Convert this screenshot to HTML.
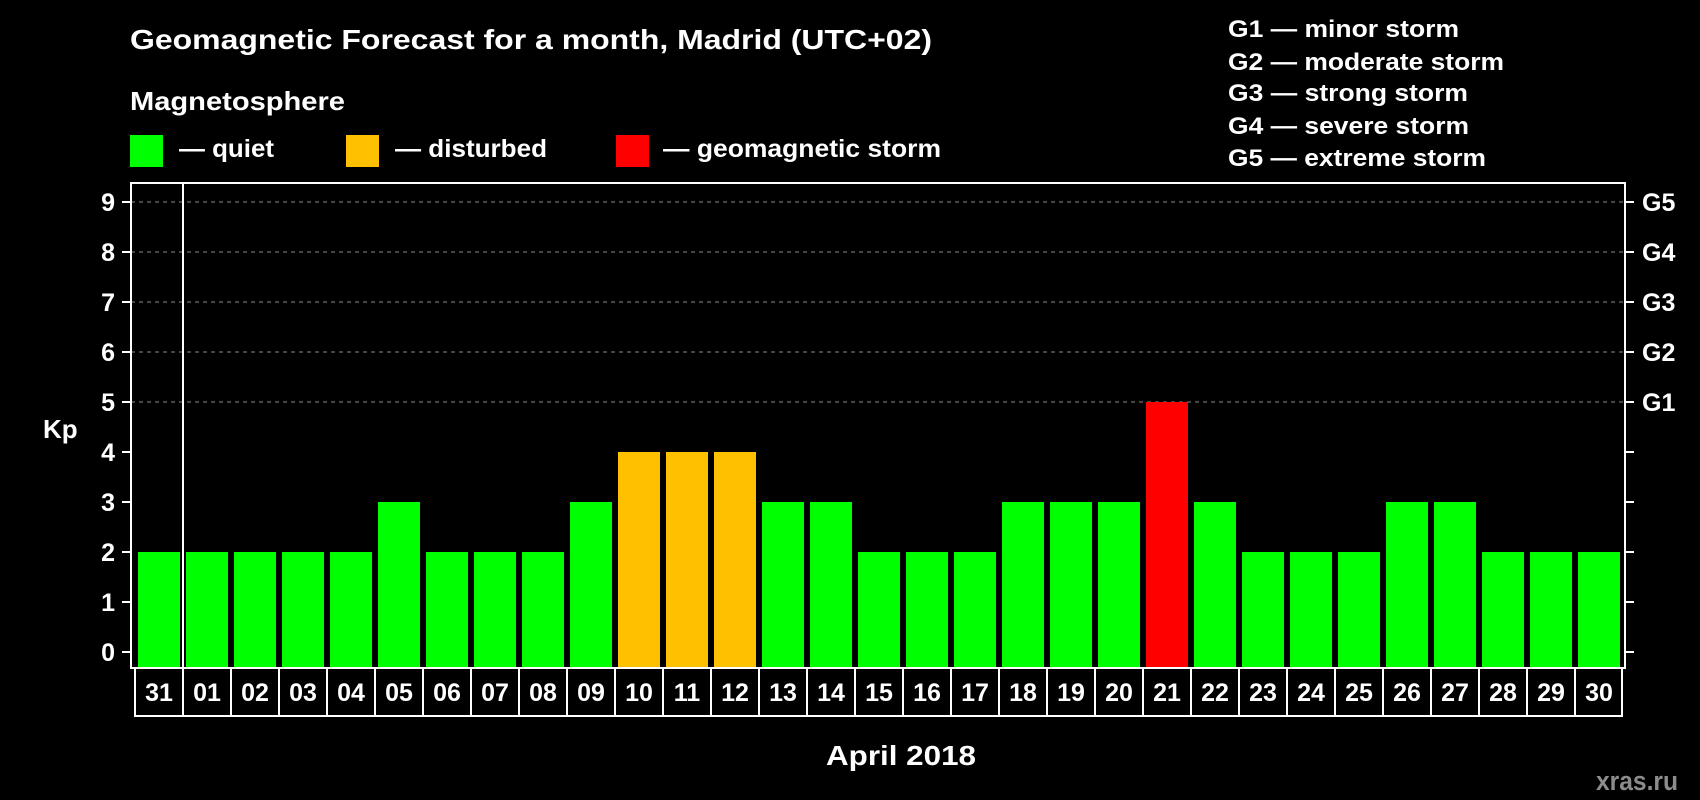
<!DOCTYPE html>
<html><head><meta charset="utf-8"><style>
html,body{margin:0;padding:0;background:#000;}
svg{display:block;font-family:"Liberation Sans",Arial,sans-serif;font-weight:bold;}
</style></head><body>
<svg id="chart" width="1700" height="800" viewBox="0 0 1700 800" xmlns="http://www.w3.org/2000/svg">
<rect width="1700" height="800" fill="#000"/>
<text x="130" y="49" font-size="28" fill="#fff" textLength="802" lengthAdjust="spacingAndGlyphs">Geomagnetic Forecast for a month, Madrid (UTC+02)</text>
<text x="130" y="110" font-size="26" fill="#fff" textLength="215" lengthAdjust="spacingAndGlyphs">Magnetosphere</text>
<g>
<rect x="130" y="135" width="33" height="32" fill="#00ff00"/>
<text x="179" y="157" font-size="25" fill="#fff" textLength="95" lengthAdjust="spacingAndGlyphs">— quiet</text></g>
<g>
<rect x="346" y="135" width="33" height="32" fill="#ffc000"/>
<text x="395" y="157" font-size="25" fill="#fff" textLength="152" lengthAdjust="spacingAndGlyphs">— disturbed</text></g>
<g>
<rect x="616" y="135" width="33" height="32" fill="#ff0000"/>
<text x="663" y="157" font-size="25" fill="#fff" textLength="278" lengthAdjust="spacingAndGlyphs">— geomagnetic storm</text></g>
<g font-size="24" fill="#fff">
<text x="1228" y="37" textLength="231" lengthAdjust="spacingAndGlyphs">G1 — minor storm</text>
<text x="1228" y="70" textLength="276" lengthAdjust="spacingAndGlyphs">G2 — moderate storm</text>
<text x="1228" y="101" textLength="240" lengthAdjust="spacingAndGlyphs">G3 — strong storm</text>
<text x="1228" y="134" textLength="241" lengthAdjust="spacingAndGlyphs">G4 — severe storm</text>
<text x="1228" y="166" textLength="258" lengthAdjust="spacingAndGlyphs">G5 — extreme storm</text>
</g>
<text x="43" y="438" font-size="26" fill="#fff">Kp</text>
<text x="826" y="765" font-size="28" fill="#fff" textLength="150" lengthAdjust="spacingAndGlyphs">April 2018</text>
<text x="1596" y="790" font-size="27" fill="#8c8c8c" textLength="82" lengthAdjust="spacingAndGlyphs">xras.ru</text>
<g id="plot"></g>
</svg>
<script>
const days = ["31","01","02","03","04","05","06","07","08","09","10","11","12","13","14","15","16","17","18","19","20","21","22","23","24","25","26","27","28","29","30"];
const kpValues = [2,2,2,2,2,3,2,2,2,3,4,4,4,3,3,2,2,2,3,3,3,5,3,2,2,2,3,3,2,2,2];
const yTicks = [0,1,2,3,4,5,6,7,8,9];
const gLabels = ["G1","G2","G3","G4","G5"];
const gLevels = [5,6,7,8,9];

const NS = "http://www.w3.org/2000/svg";
const plot = document.getElementById("plot");
const L = 131, R = 1625, T = 183, B = 668;
const X0 = 138, PITCH = 48, BW = 42;
function xPos(i){ return X0 + i*PITCH; }
function yPos(v){ return 652 - v*50; }
function mk(tag, attrs){ const e = document.createElementNS(NS, tag); for (const k in attrs) e.setAttribute(k, attrs[k]); plot.appendChild(e); return e; }
function colorFor(v){ return v >= 5 ? "#ff0000" : (v >= 4 ? "#ffc000" : "#00ff00"); }

// grid lines
gLevels.forEach(function(v){
  const g = mk("line", {x1:L, x2:R, y1:yPos(v), y2:yPos(v), stroke:"#8a8a8a", "stroke-width":1, "stroke-dasharray":"4,4"});
  
  
});
// bars
kpValues.forEach(function(v, i){
  const r = mk("rect", {x:xPos(i), y:yPos(v), width:BW, height:B - yPos(v), fill:colorFor(v)});
  
  
});
// frame
const fr = mk("rect", {x:L, y:T, width:R-L, height:B-T, fill:"none", stroke:"#fff", "stroke-width":2});


const dv = mk("line", {x1:183, x2:183, y1:T, y2:B, stroke:"#fff", "stroke-width":2});


// y ticks left
yTicks.forEach(function(v){
  const t = mk("line", {x1:122, x2:L, y1:yPos(v), y2:yPos(v), stroke:"#fff", "stroke-width":2});
  
  
  const tr = mk("line", {x1:R, x2:R+9, y1:yPos(v), y2:yPos(v), stroke:"#fff", "stroke-width":2});
  
  
  const tx = mk("text", {x:115, y:yPos(v)+9, "font-size":25, fill:"#fff", "text-anchor":"end"});
  tx.textContent = String(v);
  
  
});
// G labels right
gLabels.forEach(function(lbl, i){
  const tx = mk("text", {x:1642, y:yPos(gLevels[i])+9, "font-size":25, fill:"#fff"});
  tx.textContent = lbl;
  
  
});
// x label cells
const cellL = 135, cellR = 1622;
const bl = mk("line", {x1:cellL, x2:cellR, y1:716, y2:716, stroke:"#fff", "stroke-width":2});


days.forEach(function(d, i){
  const edge = (i === 0) ? cellL : xPos(i) - 3;
  const vl = mk("line", {x1:edge, x2:edge, y1:B, y2:717, stroke:"#fff", "stroke-width":2});
  
  
  const tx = mk("text", {x:xPos(i)+BW/2, y:701, "font-size":25, fill:"#fff", "text-anchor":"middle"});
  tx.textContent = d;
  
  
});
const lastV = mk("line", {x1:cellR, x2:cellR, y1:B, y2:717, stroke:"#fff", "stroke-width":2});


</script>
</body></html>
